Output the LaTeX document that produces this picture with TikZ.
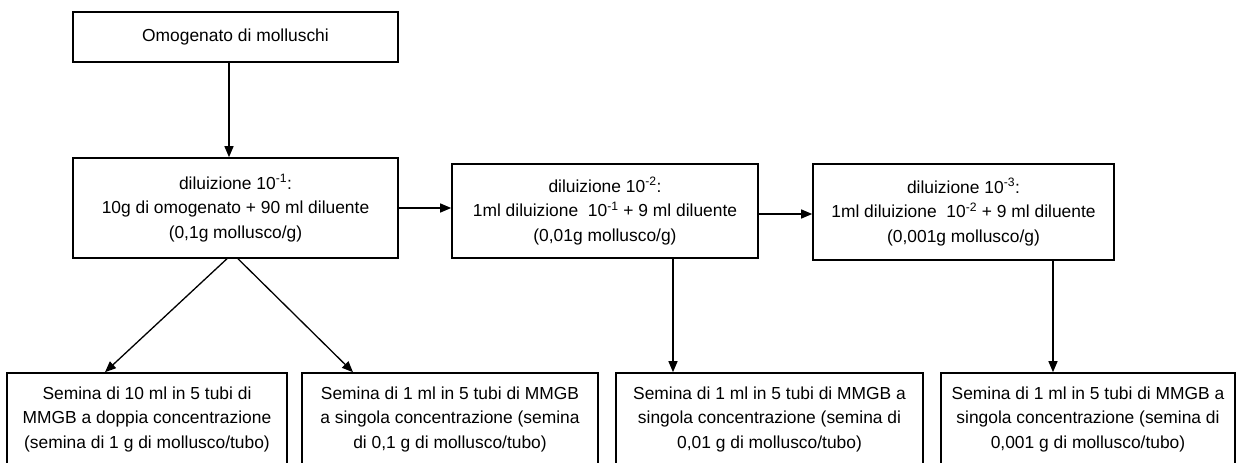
\documentclass[tikz,border=0pt]{standalone}
\usepackage{fontspec}
\setmainfont{Liberation Sans}
\usetikzlibrary{arrows.meta}
\begin{document}
\begin{tikzpicture}[x=1pt,y=-1pt,
  box/.style={draw=black, line width=1.6pt, rectangle, inner sep=0pt, align=center,
    font=\fontsize{17.4}{24.5}\selectfont},
  arr/.style={draw=black, line width=1.3pt, -{Triangle[length=11pt,width=9pt]}}]
\clip (0,0) rectangle (1240,463);
\fill[white] (0,0) rectangle (1240,463);
\node[box, minimum width=325pt, minimum height=50pt] (top) at (235.5,37) {Omogenato di molluschi};
\node[box, minimum width=325pt, minimum height=100pt] (b1) at (235.5,208)
  {diluizione 10\textsuperscript{-1}:\\10g di omogenato + 90 ml diluente\\(0,1g mollusco/g)};
\node[box, minimum width=306pt, minimum height=94pt] (b2) at (605,211)
  {diluizione 10\textsuperscript{-2}:\\1ml diluizione\ \ 10\textsuperscript{-1} + 9 ml diluente\\(0,01g mollusco/g)};
\node[box, minimum width=301pt, minimum height=96pt] (b3) at (963.5,212)
  {diluizione 10\textsuperscript{-3}:\\1ml diluizione\ \ 10\textsuperscript{-2} + 9 ml diluente\\(0,001g mollusco/g)};
\node[box, minimum width=280pt, minimum height=92pt] (sa) at (147,419)
  {Semina di 10 ml in 5 tubi di\\MMGB a doppia concentrazione\\(semina di 1 g di mollusco/tubo)};
\node[box, minimum width=296pt, minimum height=92pt] (sb) at (450,419)
  {Semina di 1 ml in 5 tubi di MMGB\\a singola concentrazione (semina\\di 0,1 g di mollusco/tubo)};
\node[box, minimum width=307pt, minimum height=92pt] (sc) at (769.5,419)
  {Semina di 1 ml in 5 tubi di MMGB a\\singola concentrazione (semina di\\0,01 g di mollusco/tubo)};
\node[box, minimum width=294pt, minimum height=92pt] (sd) at (1088,419)
  {Semina di 1 ml in 5 tubi di MMGB a\\singola concentrazione (semina di\\0,001 g di mollusco/tubo)};
\draw[arr] ([xshift=-6.5pt,yshift=2pt]top.south) -- ([xshift=-6.5pt]b1.north);
\draw[arr] (b1.east) -- (b1.east -| b2.west);
\draw[arr] ([yshift=-3pt]b2.east) -- ([yshift=-3pt]b2.east -| b3.west);
\draw[arr] ([xshift=-7.5pt,yshift=1pt]b1.south) -- ([xshift=-42pt]sa.north);
\draw[arr] ([xshift=1.5pt,yshift=1pt]b1.south) -- ([xshift=-97pt]sb.north);
\draw[arr] ([xshift=68pt]b2.south) -- ([xshift=-96.5pt]sc.north);
\draw[arr] ([xshift=89.5pt]b3.south) -- ([xshift=-35pt]sd.north);
\end{tikzpicture}
\end{document}
